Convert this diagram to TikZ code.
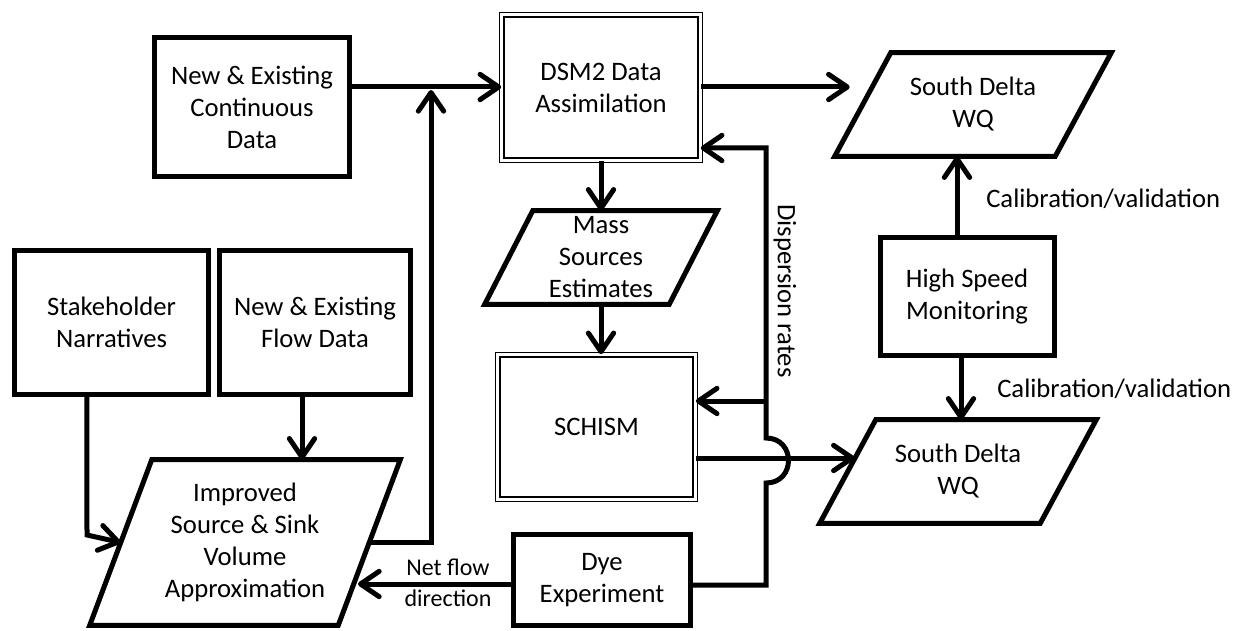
\documentclass[tikz,border=0pt]{standalone}
\usepackage{fontspec}
\setmainfont{Carlito}
\usetikzlibrary{arrows.meta,calc}
\newcommand\drawpara[2]{\draw[ln,line join=miter] ($(#1.north west)+(#2,0)$) -- ($(#1.north east)+(#2,0)$) -- ($(#1.south east)-(#2,0)$) -- ($(#1.south west)-(#2,0)$) -- cycle;}
\begin{document}
\begin{tikzpicture}[x=0.75pt,y=-0.75pt,
  font=\fontsize{20}{24}\selectfont,
  box/.style={draw,line width=3.75pt,align=center,inner sep=0pt},
  dbox/.style={draw,line width=1pt,double,double distance=2.25pt,align=center,inner sep=0pt},
  ptext/.style={align=center,inner sep=0pt},
  ln/.style={line width=3.75pt},
  arr/.style={line width=3.75pt,-{Straight Barb[length=14pt,width=19pt,round]}},
  lbl/.style={inner sep=0pt}
]
\useasboundingbox (0,0) rectangle (1234,631);

% rectangles
\node[box,minimum width=145.5pt,minimum height=108pt] (stake) at (111.5,322.5) {Stakeholder\\Narratives};
\node[box,minimum width=143.25pt,minimum height=108pt] (flow) at (315,322.5) {New \& Existing\\Flow Data};
\node[box,minimum width=146.25pt,minimum height=104.25pt] (cont) at (252,107) {New \& Existing\\Continuous\\Data};
\node[dbox,minimum width=148.7pt,minimum height=109pt] (dsm) at (601,87.5) {DSM2 Data\\Assimilation};
\node[dbox,minimum width=148pt,minimum height=108.2pt] (schism) at (596.5,427) {SCHISM};
\node[box,minimum width=132.75pt,minimum height=68.25pt] (dye) at (602,580) {Dye\\Experiment};
\node[box,minimum width=130.5pt,minimum height=88.5pt] (hsm) at (967,296.5) {High Speed\\Monitoring};

% parallelograms
\node[ptext,minimum width=138pt,minimum height=69.75pt] (mass) at (601,257.5) {Mass\\Sources\\Estimates};
\drawpara{mass}{24}
\node[ptext,minimum width=186pt,minimum height=123.75pt] (imp) at (245,542.5) {Improved\\Source \& Sink\\Volume\\Approximation};
\drawpara{imp}{31}
\node[ptext,minimum width=165pt,minimum height=77.25pt] (wq1) at (973,104.5) {South Delta\\WQ};
\drawpara{wq1}{28}
\node[ptext,minimum width=165pt,minimum height=77.25pt] (wq2) at (958,471.5) {South Delta\\WQ};
\drawpara{wq2}{28}

% labels
\node[lbl,anchor=base west] (cal1) at (986,207) {Calibration/validation};
\node[lbl,anchor=base west] (cal2) at (997,397) {Calibration/validation};
\node[lbl,rotate=-90] (disp) at (785,291) {Dispersion rates};
\node[lbl,align=center,font=\fontsize{18}{23}\selectfont] (nf) at (448,583) {Net flow\\direction};

% coordinates
\coordinate (y87) at (0,87);
\coordinate (j1) at (431,90);
\coordinate (k1) at (87,535);
\coordinate (y458) at (0,458);
\coordinate (h1) at (766,483);
\coordinate (h2) at (766,438);
\coordinate (c1) at (766,148);
\coordinate (b1) at (766,401);
\coordinate (impr) at (358,584);

% connectors
\draw[arr] (cont.east |- y87) -- (dsm.west |- y87);
\draw[arr] (imp.east) -| (j1);
\draw[arr] ([xshift=-9.75pt]flow.south) -- ([xshift=-9.75pt]flow.south |- imp.north);
\draw[arr] ([xshift=-18.4pt]stake.south) -- (k1) -- (imp.west);
\draw[arr] (dsm.south) -- (mass.north);
\draw[arr] (mass.south) -- (mass.south |- schism.north);
\draw[arr,shorten >=9.75pt] (dsm.east |- y87) -- (wq1.west |- y87);
\draw[arr] ([xshift=-7.5pt]hsm.north) -- ([xshift=-7.5pt]hsm.north |- wq1.south);
\draw[arr] ([xshift=-4.5pt]hsm.south) -- ([xshift=-4.5pt]hsm.south |- wq2.north);
\draw[arr] (schism.east |- y458) -- ($(wq2.west |- y458)+(7,0)$);
\draw[arr] ([yshift=-3.75pt]dye.east) -| (h1) .. controls (796,483) and (796,438) .. (h2) -- (c1) -- (dsm.east |- c1);
\draw[arr] (b1) -- (schism.east |- b1);
\draw[arr] ([yshift=-3pt]dye.west) -- (impr);
\end{tikzpicture}
\end{document}
